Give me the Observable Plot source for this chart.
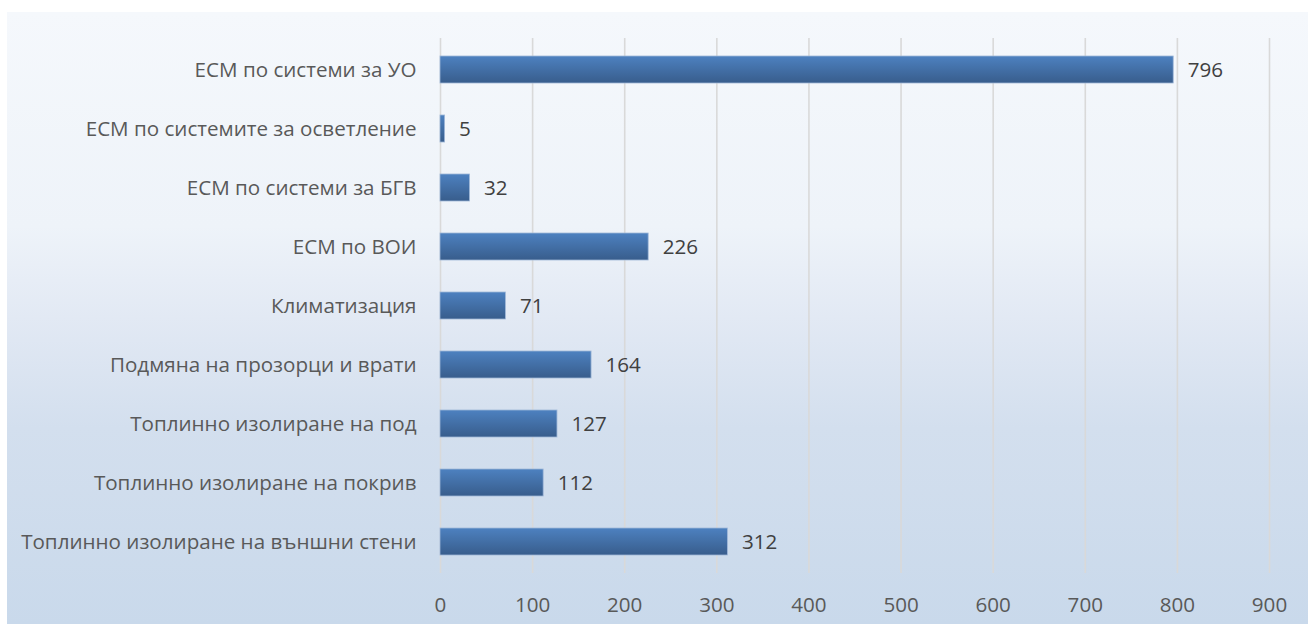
<!DOCTYPE html>
<html><head><meta charset="utf-8">
<script src="https://cdn.jsdelivr.net/npm/d3@7"></script>
<script src="https://cdn.jsdelivr.net/npm/@observablehq/plot@0.6"></script>
<style>
html,body{margin:0;padding:0;background:#fff;}
#chart{position:absolute;left:7px;top:12px;width:1301px;height:612px;background:linear-gradient(to bottom,#f5f8fc 0%,#eef3f9 35%,#e2e9f4 50%,#d3dfee 68%,#c9d9eb 100%);}
</style></head><body><div id="chart"></div>
<script>
const categories = [
  "ЕСМ по системи за УО",
  "ЕСМ по системите за осветление",
  "ЕСМ по системи за БГВ",
  "ЕСМ по ВОИ",
  "Климатизация",
  "Подмяна на прозорци и врати",
  "Топлинно изолиране на под",
  "Топлинно изолиране на покрив",
  "Топлинно изолиране на външни стени"
];
const values = [796, 5, 32, 226, 71, 164, 127, 112, 312];
const xTicks = [0, 100, 200, 300, 400, 500, 600, 700, 800, 900];

const data = categories.map((c, i) => ({category: c, value: values[i]}));

const plot = Plot.plot({
  width: 1301,
  height: 612,
  marginLeft: 433,
  marginRight: 39,
  marginTop: 26,
  marginBottom: 51,
  style: {background: "transparent", fontFamily: "'Open Sans', sans-serif", fontSize: "20.6px", color: "#595959"},
  x: {domain: [0, 900], ticks: xTicks, label: null, tickSize: 0, tickPadding: 24},
  y: {domain: categories, label: null, paddingInner: 0.54, paddingOuter: 0.27, tickSize: 0, tickPadding: 24},
  marks: [
    Plot.gridX(xTicks, {stroke: "#d9d9d9", strokeOpacity: 1, strokeWidth: 1.6}),
    Plot.barX(data, {x: "value", y: "category", fill: "url(#barGrad)", stroke: "#9fb7d8", strokeWidth: 0.8}),
    Plot.text(data, {x: "value", y: "category", text: d => String(d.value), textAnchor: "start", dx: 14, fill: "#404040", fontSize: 20.6})
  ]
});

const svg = d3.select(plot);
const defs = svg.insert("defs", ":first-child");
const g = defs.append("linearGradient").attr("id", "barGrad").attr("x1", 0).attr("y1", 0).attr("x2", 0).attr("y2", 1);
g.append("stop").attr("offset", "0%").attr("stop-color", "#4d81c0");
g.append("stop").attr("offset", "100%").attr("stop-color", "#385d8c");

document.getElementById("chart").appendChild(plot);
</script>
</body></html>
